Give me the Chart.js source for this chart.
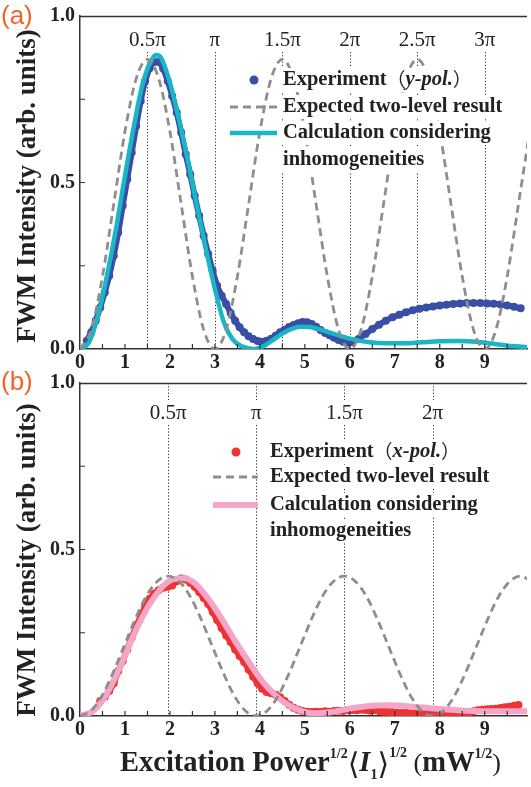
<!DOCTYPE html>
<html>
<head>
<meta charset="utf-8">
<script src="https://cdn.jsdelivr.net/npm/chart.js@4.4.0/dist/chart.umd.min.js"></script>
<style>
  html, body { margin: 0; padding: 0; background: #fff; }
  #wrap { position: relative; width: 531px; height: 787px; overflow: hidden; }
  .panel { position: absolute; left: 0; width: 531px; }
  #pa { top: 0; height: 375px; }
  #pb { top: 355px; height: 432px; }
</style>
</head>
<body>
<div id="wrap">
  <div class="panel" id="pa"><canvas id="chartA"></canvas></div>
  <div class="panel" id="pb"><canvas id="chartB"></canvas></div>
</div>
<script>
// ---- axes ----
const xMax = 9.94;
const xTicks = [0, 1, 2, 3, 4, 5, 6, 7, 8, 9];
const xTickMarks = [0.5, 1, 1.5, 2, 2.5, 3, 3.5, 4, 4.5, 5, 5.5, 6, 6.5, 7, 7.5, 8, 8.5, 9, 9.5];
const yTicks = [0, 0.5, 1.0];
const yTickMarks = [0.25, 0.5, 0.75];

// ---- panel (a): y-pol ----
const piXA = [1.5, 3, 4.5, 6, 7.5, 9];
const piLabelsA = ['0.5π', 'π', '1.5π', '2π', '2.5π', '3π'];

const expAX = [0.15,0.25,0.35,0.45,0.55,0.65,0.75,0.85,0.95,1.05,1.15,1.25,1.35,1.45,1.55,1.65,1.75,1.85,1.95,2.05,
  2.15,2.25,2.35,2.45,2.55,2.65,2.75,2.85,2.95,3.05,3.15,3.25,3.35,3.45,3.55,3.65,3.75,3.85,3.95,4.05,
  4.15,4.25,4.35,4.45,4.55,4.65,4.75,4.85,4.95,5.05,5.15,5.25,5.35,5.45,5.55,5.65,5.75,5.85,5.95,6.05,
  6.2,6.35,6.5,6.65,6.8,6.95,7.1,7.25,7.4,7.55,7.7,7.85,8.0,8.15,8.3,8.45,8.6,8.75,8.9,9.05,9.2,9.35,9.5,9.65,9.8];
const expAY = [0.025,0.05,0.085,0.125,0.17,0.22,0.28,0.35,0.43,0.51,0.59,0.67,0.745,0.805,0.843,0.862,0.862,0.842,0.805,0.76,
  0.71,0.65,0.585,0.525,0.46,0.4,0.34,0.285,0.235,0.19,0.16,0.135,0.108,0.085,0.065,0.05,0.038,0.03,0.024,0.022,
  0.025,0.031,0.04,0.05,0.058,0.066,0.072,0.077,0.081,0.08,0.075,0.067,0.057,0.048,0.041,0.034,0.027,0.022,0.019,0.021,
  0.031,0.045,0.06,0.073,0.085,0.095,0.103,0.11,0.116,0.121,0.125,0.128,0.131,0.133,0.135,0.137,0.138,0.138,0.138,0.137,0.136,0.134,0.131,0.127,0.122];

const twoLevelAX = [0,0.25,0.5,0.75,1,1.25,1.5,1.75,2,2.25,2.5,2.75,3,3.25,3.5,3.75,4,4.25,4.5,4.75,
  5,5.25,5.5,5.75,6,6.25,6.5,6.75,7,7.25,7.5,7.75,8,8.25,8.5,8.75,9,9.25,9.5,9.75,10];
const twoLevelAY = [0,0.058,0.218,0.435,0.653,0.812,0.87,0.812,0.653,0.435,0.218,0.058,
  0,0.058,0.218,0.435,0.653,0.812,0.87,0.812,0.653,0.435,0.218,0.058,
  0,0.058,0.218,0.435,0.653,0.812,0.87,0.812,0.653,0.435,0.218,0.058,
  0,0.058,0.218,0.435,0.653];

const calcAX = [0,0.2,0.4,0.6,0.8,1.0,1.2,1.4,1.6,1.7,1.8,2.0,2.2,2.4,2.6,2.8,3.0,3.2,3.4,3.6,
  3.85,4.1,4.3,4.5,4.7,4.9,5.1,5.4,5.7,6.0,6.4,6.8,7.2,7.6,8.0,8.4,8.8,9.2,9.6,9.94];
const calcAY = [0,0.02,0.1,0.22,0.36,0.52,0.67,0.8,0.87,0.883,0.875,0.8,0.69,0.565,0.43,0.3,0.18,0.08,0.028,0.008,
  0,0.01,0.028,0.046,0.06,0.067,0.066,0.056,0.043,0.031,0.021,0.017,0.017,0.02,0.023,0.024,0.022,0.016,0.009,0.006];

// ---- panel (b): x-pol ----
const piXB = [1.96, 3.92, 5.88, 7.84];
const piLabelsB = ['0.5π', 'π', '1.5π', '2π'];

const expBX = [0.45,0.55,0.65,0.75,0.85,0.95,1.05,1.15,1.25,1.35,1.45,1.55,1.65,1.75,1.85,1.95,2.05,2.15,2.25,2.35,
  2.45,2.55,2.65,2.75,2.85,2.95,3.05,3.15,3.25,3.35,3.45,3.55,3.65,3.75,3.85,3.95,4.05,4.15,4.25,4.35,
  4.45,4.55,4.65,4.75,4.85,4.95,5.05,5.15,5.25,5.35,5.45,5.55,5.65,5.75,5.85,5.95,6.05,6.15,6.25,6.35,
  6.45,6.55,6.65,6.75,6.85,6.95,7.05,7.15,7.25,7.35,7.45,7.55,7.65,7.75,7.85,7.95,8.05,8.15,8.25,8.35,
  8.45,8.55,8.65,8.75,8.85,8.95,9.05,9.15,9.25,9.35,9.45,9.55,9.65,9.75];
const expBY = [0.045,0.058,0.075,0.098,0.135,0.165,0.2,0.235,0.27,0.3,0.33,0.352,0.368,0.378,0.385,0.388,0.392,0.405,0.413,0.41,
  0.4,0.388,0.372,0.354,0.336,0.312,0.288,0.264,0.242,0.222,0.2,0.18,0.162,0.14,0.118,0.098,0.082,0.072,0.068,0.064,
  0.056,0.045,0.034,0.025,0.019,0.015,0.013,0.012,0.013,0.012,0.014,0.013,0.015,0.016,0.015,0.017,0.018,0.017,0.019,0.018,
  0.016,0.017,0.015,0.013,0.012,0.011,0.01,0.009,0.01,0.008,0.008,0.007,0.007,0.006,0.007,0.006,0.006,0.007,0.006,0.006,
  0.007,0.008,0.01,0.014,0.017,0.019,0.02,0.021,0.022,0.024,0.026,0.028,0.031,0.033];

const twoLevelBX = [0,0.245,0.49,0.735,0.98,1.225,1.47,1.715,1.96,2.205,2.45,2.695,2.94,3.185,3.43,3.675,
  3.92,4.165,4.41,4.655,4.9,5.145,5.39,5.635,5.88,6.125,6.37,6.615,6.86,7.105,7.35,7.595,
  7.84,8.085,8.33,8.575,8.82,9.065,9.31,9.555,9.8,10.045];
const twoLevelBY = [0,0.016,0.061,0.13,0.21,0.29,0.359,0.404,0.42,0.404,0.359,0.29,0.21,0.13,0.061,0.016,
  0,0.016,0.061,0.13,0.21,0.29,0.359,0.404,0.42,0.404,0.359,0.29,0.21,0.13,0.061,0.016,
  0,0.016,0.061,0.13,0.21,0.29,0.359,0.404,0.42,0.404];

const calcBX = [0,0.3,0.6,0.9,1.2,1.5,1.8,2.05,2.3,2.55,2.85,3.15,3.45,3.75,4.05,4.35,4.6,4.9,5.2,5.6,
  6.0,6.5,6.9,7.4,8.0,8.6,9.2,9.7,9.94];
const calcBY = [0,0.016,0.068,0.15,0.245,0.325,0.383,0.41,0.414,0.399,0.352,0.292,0.225,0.163,0.105,0.062,0.036,0.016,0.008,0.012,
  0.022,0.031,0.032,0.028,0.021,0.016,0.014,0.014,0.014];

const legendTexts = ['Expected two-level result', 'Calculation considering', 'inhomogeneities'];

const SERIF = '"Liberation Serif", "Times New Roman", serif';
const CJK = '"Noto Sans CJK SC", sans-serif';

const pts = (xs, ys) => xs.map((x, i) => ({ x, y: ys[i] }));

function drawRuns(ctx, runs, x, y, align) {
  let w = 0;
  runs.forEach(r => { ctx.font = r.f; r.w = ctx.measureText(r.t).width; w += r.w; });
  let cx = align === 'center' ? x - w / 2 : x;
  ctx.textAlign = 'left';
  runs.forEach(r => { ctx.font = r.f; ctx.fillText(r.t, cx, y + (r.dy || 0)); cx += r.w; });
  return w;
}

function deco(cfg) {
  return {
    id: 'deco',
    beforeDatasetsDraw(chart) {
      const { ctx, chartArea: a, scales: { x } } = chart;
      ctx.save();
      ctx.strokeStyle = '#333';
      ctx.lineWidth = 1;
      ctx.setLineDash([1.2, 2]);
      cfg.piX.forEach(v => {
        const px = Math.round(x.getPixelForValue(v)) + 0.5;
        ctx.beginPath();
        if (cfg.lineAbove) { ctx.moveTo(px, a.top); ctx.lineTo(px, cfg.piY - 13); }
        ctx.moveTo(px, cfg.piY + 12);
        ctx.lineTo(px, a.bottom);
        ctx.stroke();
      });
      ctx.setLineDash([]);
      ctx.fillStyle = '#222';
      ctx.font = '21px ' + SERIF;
      ctx.textAlign = 'center';
      ctx.textBaseline = 'middle';
      cfg.piX.forEach((v, i) => ctx.fillText(cfg.piLabels[i], x.getPixelForValue(v), cfg.piY));
      ctx.restore();
    },
    afterDatasetsDraw(chart) {
      const { ctx } = chart;
      const ds = chart.data.datasets;
      const ly = cfg.legendY;
      ctx.save();
      // legend samples
      ctx.fillStyle = ds[2].pointBackgroundColor;
      ctx.beginPath();
      ctx.arc(cfg.markerX, ly[0], 4.5, 0, Math.PI * 2);
      ctx.fill();
      ctx.strokeStyle = ds[0].borderColor;
      ctx.lineWidth = ds[0].borderWidth;
      ctx.setLineDash(ds[0].borderDash);
      ctx.beginPath(); ctx.moveTo(cfg.sampleX0, ly[1]); ctx.lineTo(cfg.sampleX1, ly[1]); ctx.stroke();
      ctx.setLineDash([]);
      ctx.strokeStyle = ds[1].borderColor;
      ctx.lineWidth = ds[1].borderWidth;
      ctx.beginPath(); ctx.moveTo(cfg.sampleX0, ly[2]); ctx.lineTo(cfg.sampleX1, ly[2]); ctx.stroke();
      // texts on white boxes
      const bold = 'bold 20.5px ' + SERIF;
      const lines = [
        [{ t: 'Experiment', f: bold }, { t: '（', f: '19px ' + CJK }, { t: cfg.expText, f: 'italic bold 20.5px ' + SERIF }, { t: '）', f: '19px ' + CJK }],
        [{ t: legendTexts[0], f: bold }],
        [{ t: legendTexts[1], f: bold }],
        [{ t: legendTexts[2], f: bold }]
      ];
      ctx.textBaseline = 'middle';
      lines.forEach((runs, i) => {
        let w = 0;
        runs.forEach(r => { ctx.font = r.f; w += ctx.measureText(r.t).width; });
        ctx.fillStyle = '#fff';
        ctx.fillRect(cfg.legendX - 2, ly[i] - 12, w + 4, 24);
        ctx.fillStyle = '#222';
        drawRuns(ctx, runs, cfg.legendX, ly[i], 'left');
      });
      ctx.restore();
    },
    afterDraw(chart) {
      const { ctx, chartArea: a, scales: { x, y } } = chart;
      ctx.save();
      ctx.strokeStyle = '#333';
      ctx.lineWidth = 1.5;
      ctx.beginPath(); ctx.moveTo(a.left, a.top + 0.5); ctx.lineTo(a.right, a.top + 0.5); ctx.stroke();
      // inward ticks
      ctx.lineWidth = 1.2;
      ctx.beginPath();
      xTickMarks.forEach(v => { const px = x.getPixelForValue(v); ctx.moveTo(px, a.bottom); ctx.lineTo(px, a.bottom - 5); });
      yTickMarks.forEach(v => { const py = y.getPixelForValue(v); ctx.moveTo(a.left, py); ctx.lineTo(a.left + 5, py); });
      ctx.stroke();
      // y title
      ctx.fillStyle = '#222';
      ctx.save();
      ctx.translate(28, cfg.yTitleY);
      ctx.rotate(-Math.PI / 2);
      ctx.font = 'bold 27px ' + SERIF;
      ctx.textAlign = 'center';
      ctx.textBaseline = 'middle';
      ctx.fillText('FWM Intensity (arb. units)', 0, 0);
      ctx.restore();
      // panel label
      ctx.fillStyle = '#f0642c';
      ctx.font = '26px "Liberation Sans", Arial, sans-serif';
      ctx.textAlign = 'left';
      ctx.textBaseline = 'middle';
      ctx.fillText(cfg.panelLabel, 1, cfg.labelY);
      // x title
      if (cfg.xTitle) {
        ctx.fillStyle = '#222';
        ctx.textBaseline = 'alphabetic';
        const b = 'bold 28.5px ' + SERIF, s = 'bold 14px ' + SERIF;
        drawRuns(ctx, [
          { t: 'Excitation Power', f: b },
          { t: '1/2', f: s, dy: -13 },
          { t: '⟨', f: '30px "DejaVu Sans"', dy: 3 },
          { t: 'I', f: 'italic bold 28.5px ' + SERIF },
          { t: '1', f: s, dy: 8 },
          { t: '⟩', f: '30px "DejaVu Sans"', dy: 3 },
          { t: '1/2', f: s, dy: -14 },
          { t: ' (', f: '26px ' + SERIF },
          { t: 'mW', f: b },
          { t: '1/2', f: s, dy: -13 },
          { t: ')', f: '26px ' + SERIF }
        ], 120, cfg.xTitleY, 'left');
      }
      ctx.restore();
    }
  };
}

function makeChart(id, d, cfg) {
  return new Chart(document.getElementById(id), {
    type: 'scatter',
    data: {
      datasets: [
        { label: 'Expected two-level result', data: pts(d.twoX, d.twoY), showLine: true, pointRadius: 0,
          borderColor: '#8e8e8e', borderWidth: 2.8, borderDash: [8, 5], cubicInterpolationMode: 'monotone', order: 0 },
        { label: 'Calculation considering inhomogeneities', data: pts(d.calcX, d.calcY), showLine: true, pointRadius: 0,
          borderColor: d.calcColor, borderWidth: d.calcWidth, cubicInterpolationMode: 'monotone', order: 1 },
        { label: 'Experiment', data: pts(d.expX, d.expY), showLine: true, borderColor: d.expColor, borderWidth: 6,
          tension: 0.3, pointRadius: 4, pointBackgroundColor: d.expColor, pointBorderWidth: 0, order: 2 }
      ]
    },
    options: {
      responsive: true,
      maintainAspectRatio: false,
      animation: false,
      devicePixelRatio: 1,
      layout: { padding: { top: cfg.padTop, right: 0, left: 0, bottom: 0 } },
      plugins: { legend: { display: false }, tooltip: { enabled: false } },
      scales: {
        x: {
          type: 'linear', min: 0, max: xMax,
          afterBuildTicks: s => { s.ticks = xTicks.map(v => ({ value: v })); },
          ticks: { font: { family: SERIF, weight: 'bold', size: 20 }, color: '#222', padding: 2, maxRotation: 0, autoSkip: false, callback: v => String(v) },
          grid: { display: false, drawTicks: false },
          border: { color: '#333', width: 1.5 },
          afterFit: s => { s.height = cfg.xHeight; s.paddingLeft = 0; s.paddingRight = 0; }
        },
        y: {
          min: 0, max: 1,
          afterBuildTicks: s => { s.ticks = yTicks.map(v => ({ value: v })); },
          ticks: { font: { family: SERIF, weight: 'bold', size: 20 }, color: '#222', padding: 5, callback: v => v.toFixed(1) },
          grid: { display: false, drawTicks: false },
          border: { color: '#333', width: 1.5 },
          afterFit: s => { s.width = 80; s.paddingTop = 0; s.paddingBottom = 0; }
        }
      }
    },
    plugins: [deco(cfg)]
  });
}

makeChart('chartA', {
  twoX: twoLevelAX, twoY: twoLevelAY, calcX: calcAX, calcY: calcAY, expX: expAX, expY: expAY,
  calcColor: '#19b6c6', calcWidth: 4.5, expColor: '#3a4ea6'
}, {
  padTop: 16, xHeight: 26,
  piX: piXA, piLabels: piLabelsA, piY: 40, lineAbove: false,
  legendX: 283, sampleX0: 230, sampleX1: 277, markerX: 254, legendY: [80, 107, 133, 160],
  expText: 'y-pol.', yTitleY: 186, panelLabel: '(a)', labelY: 17, xTitle: false
});

makeChart('chartB', {
  twoX: twoLevelBX, twoY: twoLevelBY, calcX: calcBX, calcY: calcBY, expX: expBX, expY: expBY,
  calcColor: '#f5a6c8', calcWidth: 6, expColor: '#ee3333'
}, {
  padTop: 28, xHeight: 71,
  piX: piXB, piLabels: piLabelsB, piY: 58, lineAbove: true,
  legendX: 270, sampleX0: 213, sampleX1: 258, markerX: 236, legendY: [97, 122, 150, 176],
  expText: 'x-pol.', yTitleY: 205, panelLabel: '(b)', labelY: 28, xTitle: true, xTitleY: 416
});
</script>
</body>
</html>
